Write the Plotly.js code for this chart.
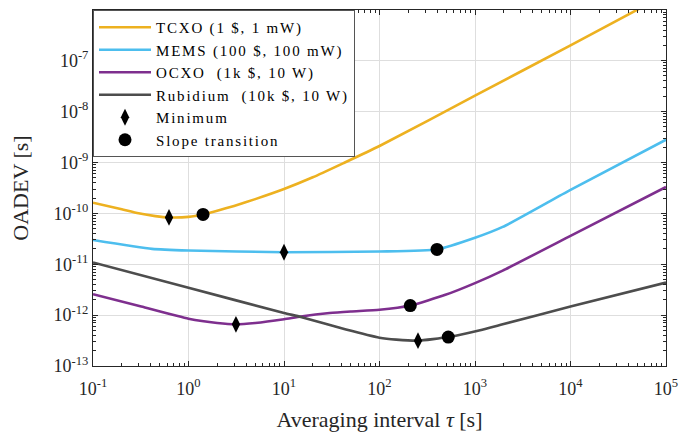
<!DOCTYPE html>
<html>
<head>
<meta charset="utf-8">
<script src="https://cdn.plot.ly/plotly-3.0.1.min.js"></script>
<style>html,body{margin:0;padding:0;background:#fff}#chart{width:692px;height:432px}
.legendtext{letter-spacing:1.8px}</style>
</head>
<body>
<div id="chart"></div>
<script>
// Averaging interval tau [s] and OADEV [s] per oscillator
var tcxoTau   = [0.1, 0.2, 0.3, 0.45, 0.625, 1, 1.42, 2, 3, 5, 10, 20, 42, 100, 1000, 10000, 100000];
var tcxoDev   = [1.62e-10, 1.2e-10, 1.0e-10, 8.8e-11, 8.3e-11, 8.5e-11, 9.5e-11, 1.12e-10, 1.4e-10, 1.9e-10, 3.0e-10, 5.1e-10, 9.7e-10, 2.1e-9, 2.05e-8, 2.0e-7, 2.0e-6];

var memsTau   = [0.1, 0.415, 1, 10, 100, 400, 1000, 1950, 10000, 100000];
var memsDev   = [3.0e-11, 2.0e-11, 1.86e-11, 1.72e-11, 1.78e-11, 1.95e-11, 3.3e-11, 5.4e-11, 2.9e-10, 2.8e-9];

var ocxoTau   = [0.1, 0.32, 1, 2, 3.14, 5, 10, 15, 30, 50, 100, 210, 490, 1000, 1950, 10000, 100000];
var ocxoDev   = [2.57e-12, 1.47e-12, 8.5e-13, 7.0e-13, 6.6e-13, 7.0e-13, 8.3e-13, 9.4e-13, 1.1e-12, 1.18e-12, 1.27e-12, 1.54e-12, 2.5e-12, 4.25e-12, 7.5e-12, 3.6e-11, 3.3e-10];

var rubTau    = [0.1, 1, 10, 15, 44.6, 100, 150, 253, 525, 1100, 1950, 10000, 100000];
var rubDev    = [1.08e-11, 3.45e-12, 1.1e-12, 9.2e-13, 5.2e-13, 3.6e-13, 3.3e-13, 3.15e-13, 3.7e-13, 5.0e-13, 6.6e-13, 1.47e-12, 4.35e-12];

// Markers
var minTau    = [0.625, 10, 3.14, 253];
var minDev    = [8.3e-11, 1.72e-11, 6.6e-13, 3.15e-13];
var transTau  = [1.42, 400, 210, 525];
var transDev  = [9.5e-11, 1.95e-11, 1.54e-12, 3.7e-13];

var seriesNames = ['TCXO (1 $, 1 mW)', 'MEMS (100 $, 100 mW)', 'OCXO&nbsp;&nbsp;(1k $, 10 W)', 'Rubidium&nbsp;&nbsp;(10k $, 10 W)'];
var colors = ['#EDB120', '#4DBEEE', '#7E2F8E', '#4D4D4D'];

var xTickVals = [0.1, 1, 10, 100, 1000, 10000, 100000];
var xTickText = ['10<sup>-1</sup>', '10<sup>0</sup>', '10<sup>1</sup>', '10<sup>2</sup>', '10<sup>3</sup>', '10<sup>4</sup>', '10<sup>5</sup>'];
var yTickVals = [1e-13, 1e-12, 1e-11, 1e-10, 1e-9, 1e-8, 1e-7];
var yTickText = ['10<sup>-13</sup>', '10<sup>-12</sup>', '10<sup>-11</sup>', '10<sup>-10</sup>', '10<sup>-9</sup>', '10<sup>-8</sup>', '10<sup>-7</sup>'];

var serifFamily = 'Liberation Serif';
var xs = [tcxoTau, memsTau, ocxoTau, rubTau];
var ys = [tcxoDev, memsDev, ocxoDev, rubDev];
var traces = [];
for (var i = 0; i < 4; i++) {
  traces.push({x: xs[i], y: ys[i], type: 'scatter', mode: 'lines', name: seriesNames[i],
    line: {color: colors[i], width: 2.6, shape: 'spline', smoothing: 0.5}});
}
traces.push({x: minTau, y: minDev, type: 'scatter', mode: 'markers', name: 'Minimum',
  marker: {symbol: 'diamond-tall', size: 12, color: '#000'}});
traces.push({x: transTau, y: transDev, type: 'scatter', mode: 'markers', name: 'Slope transition',
  marker: {symbol: 'circle', size: 13, color: '#000'}});

function axisBase() {
  return {
    type: 'log', showline: true, linecolor: '#262626', linewidth: 1, mirror: 'allticks',
    ticks: 'inside', ticklen: 5, tickcolor: '#262626', showgrid: true, gridcolor: '#dedede', gridwidth: 1,
    zeroline: false, tickmode: 'array',
    tickfont: {family: serifFamily, size: 18, color: '#262626'},
    minor: {ticks: 'inside', ticklen: 3, tickcolor: '#262626', showgrid: false, dtick: 'D1'}
  };
}

var layout = {
  width: 692, height: 432,
  font: {family: serifFamily, size: 16, color: '#262626'},
  margin: {l: 93, r: 26, t: 10, b: 66},
  paper_bgcolor: '#fff', plot_bgcolor: '#fff',
  showlegend: true,
  legend: {x: 0, y: 1, xanchor: 'left', yanchor: 'top', bgcolor: '#fff', bordercolor: '#555', borderwidth: 1,
    font: {family: serifFamily, size: 15, color: '#000'}, itemwidth: 52, tracegroupgap: 0},
  xaxis: Object.assign(axisBase(), {range: [-1, 5], tickvals: xTickVals, ticktext: xTickText, ticklabelstandoff: 6,
    title: {text: 'Averaging interval <i>τ</i> [s]', font: {family: serifFamily, size: 22, color: '#262626'}, standoff: 17}}),
  yaxis: Object.assign(axisBase(), {range: [-13, -6.005], tickvals: yTickVals, ticktext: yTickText,
    title: {text: 'OADEV [s]', font: {family: serifFamily, size: 22, color: '#262626'}, standoff: 18}})
};

Plotly.newPlot('chart', traces, layout, {displayModeBar: false, staticPlot: true});
</script>
</body>
</html>
